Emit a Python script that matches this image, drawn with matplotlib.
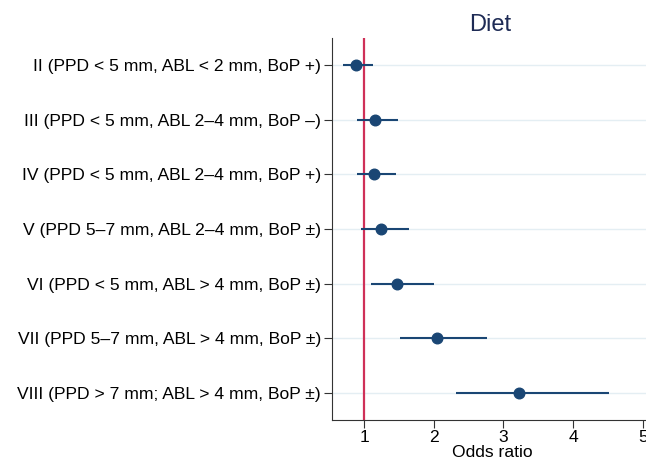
import numpy as np
import matplotlib.pyplot as plt

plt.rcParams['font.family'] = ['Liberation Sans', 'DejaVu Sans']

# stopnie (od gory do dolu)
etykiety = ["II (PPD < 5 mm, ABL < 2 mm, BoP +)",
            "III (PPD < 5 mm, ABL 2\u20134 mm, BoP \u2013)",
            "IV (PPD < 5 mm, ABL 2\u20134 mm, BoP +)",
            "V (PPD 5\u20137 mm, ABL 2\u20134 mm, BoP \u00b1)",
            "VI (PPD < 5 mm, ABL > 4 mm, BoP \u00b1)",
            "VII (PPD 5\u20137 mm, ABL > 4 mm, BoP \u00b1)",
            "VIII (PPD > 7 mm; ABL > 4 mm, BoP \u00b1)"]
oddsy = [0.89, 1.155, 1.14, 1.25, 1.48, 2.05, 3.23]
dolne = [0.70, 0.90, 0.90, 0.95, 1.10, 1.51, 2.32]
gorne = [1.125, 1.49, 1.455, 1.65, 2.00, 2.77, 4.51]
xticki = [1, 2, 3, 4, 5]

granat = '#1a4674'
fig = plt.figure(figsize=(6.46, 4.66), dpi=100)
ax = fig.add_axes([332/646, 1-420/466, (646-332)/646 + 0.01, (420-38)/466])

y = np.arange(1, len(etykiety)+1)
for yy in y:
    ax.axhline(yy, color='#e4eef3', lw=1.0, zorder=0)
ax.axvline(1, color='#cf3058', lw=1.6, zorder=1)
ax.hlines(y, dolne, gorne, color=granat, lw=1.5, zorder=2)
ax.scatter(oddsy, y, s=58, color=granat, zorder=3)

ax.set_ylim(7.5, 0.5)
ax.set_xlim(0.54, 5.14)
ax.set_yticks(y)
ax.set_yticklabels(etykiety, fontsize=12.6)
ax.set_xticks(xticki)
ax.set_xticklabels([str(t) for t in xticki], fontsize=12.6)
ax.tick_params(length=6, width=0.8, color='#333333')
ax.tick_params(axis='y', pad=2)
ax.tick_params(axis='x', pad=1)
ax.set_xlabel('Odds ratio', fontsize=12.6, labelpad=0)
ax.spines['top'].set_visible(False)
ax.spines['right'].set_visible(False)
ax.spines['left'].set_color('#333333')
ax.spines['bottom'].set_color('#333333')
ax.set_title('Diet', fontsize=17, color='#1e2b55', pad=5, x=(490-332)/(646-332+6.46))

plt.savefig('out.png', dpi=100)
